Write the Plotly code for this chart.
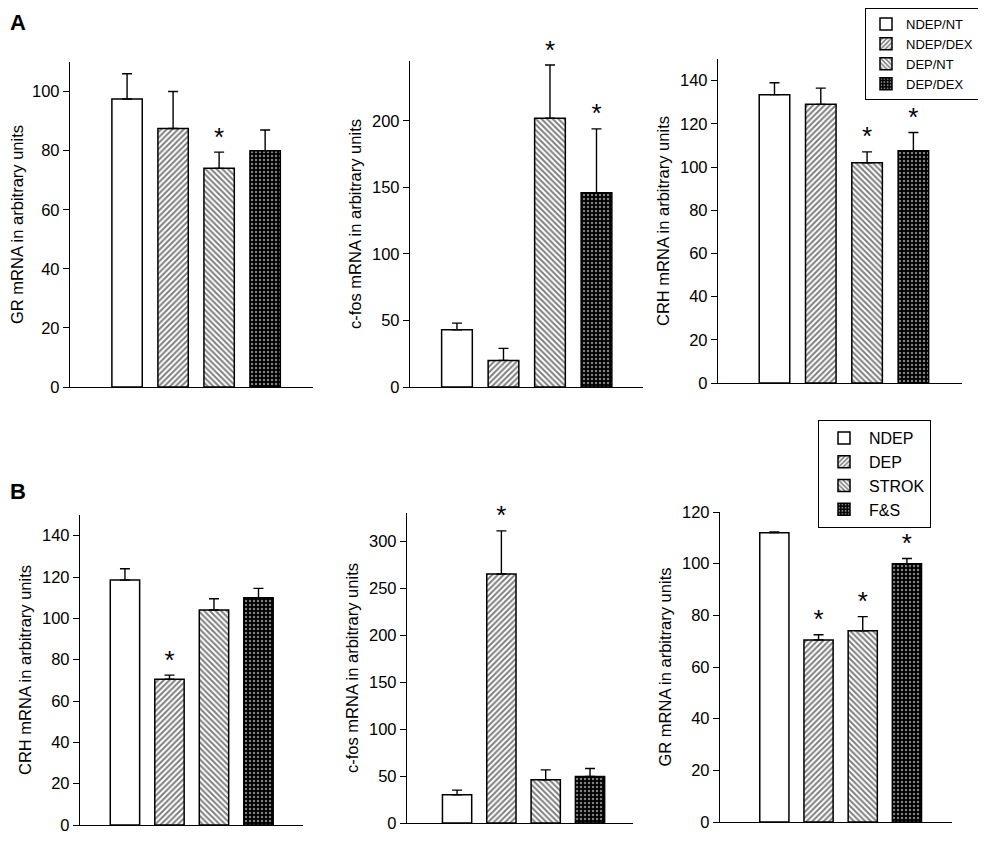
import plotly.graph_objects as go

# ---------------- data ----------------
A_groups = ["NDEP/NT", "NDEP/DEX", "DEP/NT", "DEP/DEX"]
B_groups = ["NDEP", "DEP", "STROK", "F&S"]

A_gr_mean = [97.5, 87.5, 74, 80]
A_gr_sem = [8.5, 12.5, 5.5, 7]
A_gr_sig = [0, 0, 1, 0]

A_cfos_mean = [43, 20, 202, 146]
A_cfos_sem = [5, 9, 40, 48]
A_cfos_sig = [0, 0, 1, 1]

A_crh_mean = [133.5, 129, 102, 107.5]
A_crh_sem = [5.5, 7.5, 5, 8.5]
A_crh_sig = [0, 0, 1, 1]

B_crh_mean = [118.5, 70.5, 104, 110]
B_crh_sem = [5.5, 2, 5.5, 4.5]
B_crh_sig = [0, 1, 0, 0]

B_cfos_mean = [30, 265, 46, 49.5]
B_cfos_sem = [5, 46, 10.5, 8.5]
B_cfos_sig = [0, 1, 0, 0]

B_gr_mean = [112, 70.5, 74, 100]
B_gr_sem = [0.3, 2, 5.5, 2]
B_gr_sig = [0, 1, 1, 1]

A_titles = ["GR mRNA in arbitrary units", "c-fos mRNA in arbitrary units", "CRH mRNA in arbitrary units"]
B_titles = ["CRH mRNA in arbitrary units", "c-fos mRNA in arbitrary units", "GR mRNA in arbitrary units"]

# ---------------- styles ----------------
W, H = 986, 841
OFF = 8  # page body margin offset
FONT = "Liberation Sans, Arial, Helvetica, sans-serif"

patterns = [
    dict(shape="", bgcolor="white"),
    dict(shape="/", size=4, solidity=0.5, fgcolor="black", bgcolor="white"),
    dict(shape="\\", size=4, solidity=0.5, fgcolor="black", bgcolor="white"),
    dict(shape=".", size=4, solidity=0.3, fgcolor="white", bgcolor="black"),
]

panels = [
    dict(groups=A_groups, mean=A_gr_mean, sem=A_gr_sem, sig=A_gr_sig, title=A_titles[0],
         px=(70, 313, 62, 387), ymax=110, xr=(-1.24, 4.04), dtick=20, legend="legend", show=True),
    dict(groups=A_groups, mean=A_cfos_mean, sem=A_cfos_sem, sig=A_cfos_sig, title=A_titles[1],
         px=(410, 643, 61, 387), ymax=245, xr=(-1.01, 4.0), dtick=50, legend="legend", show=False),
    dict(groups=A_groups, mean=A_crh_mean, sem=A_crh_sem, sig=A_crh_sig, title=A_titles[2],
         px=(718, 962, 59, 383), ymax=150, xr=(-1.22, 4.05), dtick=20, legend="legend", show=False),
    dict(groups=B_groups, mean=B_crh_mean, sem=B_crh_sem, sig=B_crh_sig, title=B_titles[0],
         px=(80, 303, 515, 825), ymax=150, xr=(-1.01, 4.0), dtick=20, legend="legend2", show=False),
    dict(groups=B_groups, mean=B_cfos_mean, sem=B_cfos_sem, sig=B_cfos_sig, title=B_titles[1],
         px=(407, 633, 513, 823), ymax=330, xr=(-1.13, 3.97), dtick=50, legend="legend2", show=True),
    dict(groups=B_groups, mean=B_gr_mean, sem=B_gr_sem, sig=B_gr_sig, title=B_titles[2],
         px=(720, 952, 512, 822), ymax=120, xr=(-1.23, 4.02), dtick=20, legend="legend2", show=False),
]

fig = go.Figure()
layout = {}

for i, p in enumerate(panels):
    n = "" if i == 0 else str(i + 1)
    xa, ya = "x" + n, "y" + n
    for j, g in enumerate(p["groups"]):
        fig.add_trace(go.Bar(
            x=[j], y=[p["mean"][j]], width=0.66, name=g,
            xaxis=xa, yaxis=ya, legend=p["legend"], showlegend=p["show"],
            marker=dict(color="white", pattern=patterns[j], line=dict(color="black", width=1.5)),
            error_y=dict(type="data", symmetric=False, array=[p["sem"][j]], arrayminus=[0],
                         color="black", thickness=1.4, width=5),
        ))
    sx = [j for j in range(4) if p["sig"][j]]
    sy = [p["mean"][j] + p["sem"][j] for j in sx]
    fig.add_trace(go.Scatter(
        x=sx, y=sy, mode="text", text=["*"] * len(sx), textposition="top center",
        textfont=dict(size=26, color="black", family=FONT), showlegend=False,
        xaxis=xa, yaxis=ya, hoverinfo="skip", cliponaxis=False,
    ))
    l, r, t, b = [v - OFF for v in p["px"]]
    layout["xaxis" + n] = dict(domain=[l / W, r / W], range=list(p["xr"]), anchor=ya,
                                showline=True, linecolor="black", linewidth=1.4,
                                showticklabels=False, ticks="", showgrid=False, zeroline=False)
    layout["yaxis" + n] = dict(domain=[1 - b / H, 1 - t / H], range=[0, p["ymax"]], anchor=xa,
                                showline=True, linecolor="black", linewidth=1.4,
                                ticks="outside", ticklen=6, tickwidth=1.2, tickcolor="black",
                                dtick=p["dtick"], tick0=0, showgrid=False, zeroline=False,
                                tickfont=dict(size=16.5, color="black", family=FONT),
                                title=dict(text=p["title"], standoff=6,
                                           font=dict(size=16.5, color="black", family=FONT)))

fig.update_layout(**layout)
fig.update_layout(
    width=W, height=H, margin=dict(l=0, r=0, t=0, b=0, autoexpand=False),
    paper_bgcolor="white", plot_bgcolor="white", barmode="overlay",
    font=dict(family=FONT, color="black"),
    legend=dict(x=(865 - OFF) / W, y=1.0, xanchor="left", yanchor="top",
                bgcolor="white", bordercolor="black", borderwidth=1,
                font=dict(size=13, family=FONT, color="black"), tracegroupgap=0,
                itemwidth=30),
    legend2=dict(x=(818 - OFF) / W, y=1 - (420 - OFF) / H, xanchor="left", yanchor="top",
                 bgcolor="white", bordercolor="black", borderwidth=1,
                 font=dict(size=16, family=FONT, color="black"), tracegroupgap=0,
                 itemwidth=40),
    annotations=[
        dict(text="<b>A</b>", x=0, y=1.0, xref="paper", yref="paper",
             xanchor="left", yanchor="top", showarrow=False, font=dict(size=22, family=FONT)),
        dict(text="<b>B</b>", x=0, y=1 - (491 - OFF) / H, xref="paper", yref="paper",
             xanchor="left", yanchor="middle", showarrow=False, font=dict(size=22, family=FONT)),
    ],
)

fig.write_html("out.html")
